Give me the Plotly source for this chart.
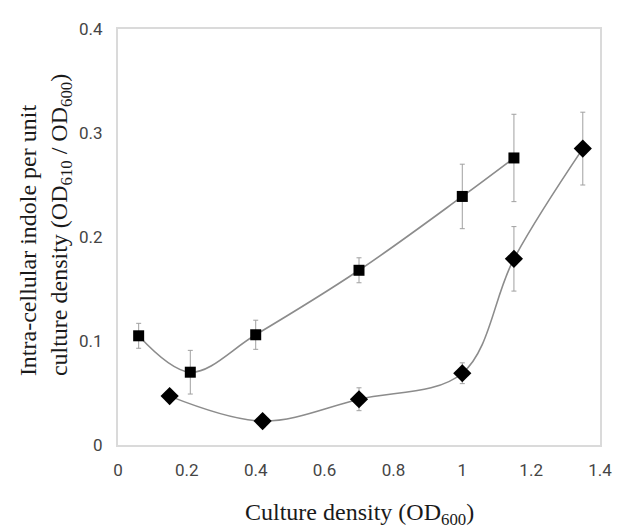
import plotly.graph_objects as go

# Data
sq_x = [0.06, 0.21, 0.40, 0.70, 1.00, 1.15]
sq_y = [0.105, 0.070, 0.106, 0.168, 0.239, 0.276]
sq_err = [0.012, 0.021, 0.014, 0.012, 0.031, 0.042]

di_x = [0.15, 0.42, 0.70, 1.00, 1.15, 1.35]
di_y = [0.047, 0.023, 0.044, 0.069, 0.179, 0.285]
di_err = [0.004, 0.006, 0.011, 0.010, 0.031, 0.035]

x_ticks = [0, 0.2, 0.4, 0.6, 0.8, 1.0, 1.2, 1.4]
x_tick_labels = ["0", "0.2", "0.4", "0.6", "0.8", "1", "1.2", "1.4"]
y_ticks = [0, 0.1, 0.2, 0.3, 0.4]
y_tick_labels = ["0", "0.1", "0.2", "0.3", "0.4"]

line_col = "#8c8c8c"
err = lambda a: dict(type="data", array=a, visible=True, color="#a0a0a0",
                     thickness=1, width=2.5)

fig = go.Figure()
fig.add_trace(go.Scatter(
    x=sq_x, y=sq_y, mode="lines+markers", error_y=err(sq_err),
    line=dict(color=line_col, width=1.6, shape="spline", smoothing=1),
    marker=dict(symbol="square", size=11, color="black"),
    showlegend=False))
fig.add_trace(go.Scatter(
    x=di_x, y=di_y, mode="lines+markers", error_y=err(di_err),
    line=dict(color=line_col, width=1.6, shape="spline", smoothing=1),
    marker=dict(symbol="diamond", size=14, color="black"),
    showlegend=False))

tick_font = dict(family="Roboto", size=17, color="#454545")
fig.update_layout(
    width=622, height=530,
    margin=dict(l=110, r=30, t=21, b=93),
    paper_bgcolor="white", plot_bgcolor="white",
    xaxis=dict(range=[0, 1.4], tickvals=x_ticks, ticktext=x_tick_labels,
               showgrid=False, zeroline=False, showline=True, mirror=True,
               linecolor="#dadada", linewidth=2, ticks="", tickfont=tick_font,
               ticklabelstandoff=9),
    yaxis=dict(range=[0, 0.4], tickvals=y_ticks, ticktext=y_tick_labels,
               showgrid=False, zeroline=False, showline=True, mirror=True,
               linecolor="#dadada", linewidth=2, ticks="", tickfont=tick_font,
               ticklabelstandoff=10),
    annotations=[
        dict(text="Intra-cellular indole per unit<br>culture density (OD<sub>610</sub> / OD<sub>600</sub>)",
             xref="paper", yref="paper", x=-0.149, y=0.529, textangle=-90,
             align="left", showarrow=False, xanchor="center", yanchor="middle",
             font=dict(family="Liberation Serif", size=24, color="#1a1a1a")),
        dict(text="Culture density (OD<sub>600</sub>)",
             xref="paper", yref="paper", x=0.50, y=-0.206,
             showarrow=False, xanchor="center", yanchor="bottom",
             font=dict(family="Liberation Serif", size=24, color="#1a1a1a")),
    ],
)

fig.write_html("out.html")
